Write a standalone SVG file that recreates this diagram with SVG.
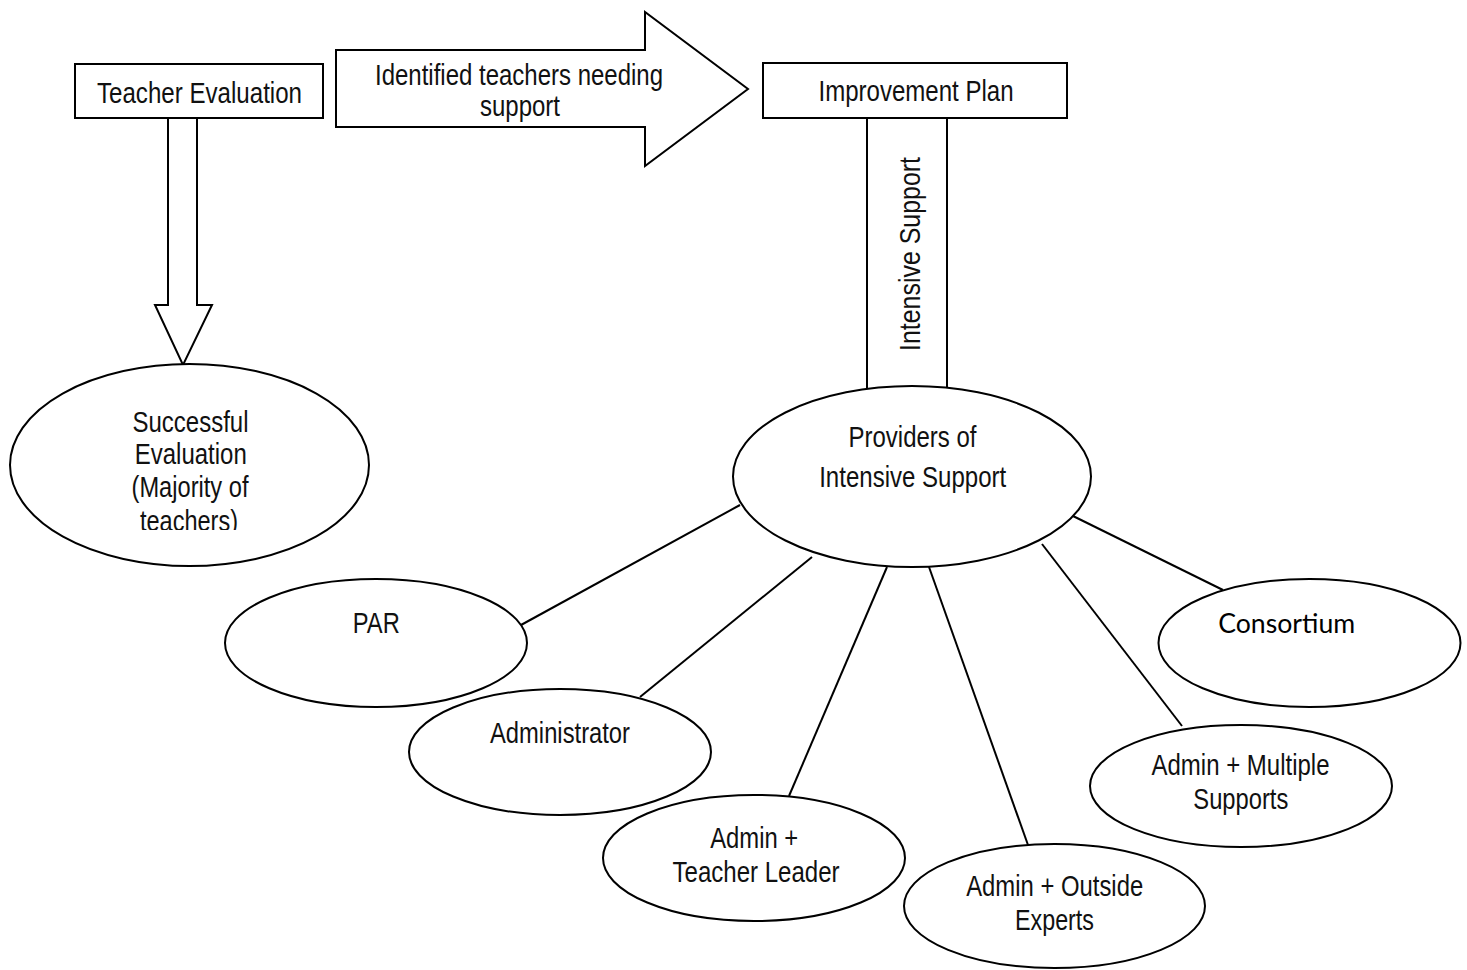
<svg xmlns="http://www.w3.org/2000/svg" width="1467" height="970" viewBox="0 0 1467 970">
<style>
  .shape { fill: #ffffff; stroke: #000000; stroke-width: 2; }
  .conn { stroke: #000000; stroke-width: 2; fill: none; }
  .lbl { font-family: 'Liberation Sans', Arial, sans-serif; font-size: 29px; fill: #111111; text-anchor: middle; }
  .cal { font-family: Lato, 'Open Sans', sans-serif; font-size: 27px; fill: #000000; text-anchor: middle; }
</style>
<defs>
  <clipPath id="clipSE"><rect x="0" y="360" width="380" height="170"/></clipPath>
</defs>
<rect width="1467" height="970" fill="#ffffff"/>

<g id="connectors">
  <line class="conn" x1="740" y1="505" x2="521" y2="625"/>
  <line class="conn" x1="812" y1="557" x2="640" y2="697"/>
  <line class="conn" x1="887" y1="567" x2="789" y2="796"/>
  <line class="conn" x1="929" y1="567" x2="1028" y2="845"/>
  <line class="conn" x1="1042" y1="544" x2="1182" y2="726"/>
  <line class="conn" x1="1073" y1="516" x2="1223" y2="590"/>
</g>

<g id="arrow-down">
  <polygon class="shape" points="168,118 197,118 197,305 212,305 183,365 155,305 168,305"/>
</g>

<g id="arrow-right">
  <polygon class="shape" points="336,50 645,50 645,12 748,89 645,166 645,127 336,127"/>
  <text class="lbl" x="519" y="85" textLength="288" lengthAdjust="spacingAndGlyphs">Identified teachers needing</text>
  <text class="lbl" x="520" y="116" textLength="80" lengthAdjust="spacingAndGlyphs">support</text>
</g>

<g id="intensive-support">
  <rect class="shape" x="867" y="117" width="80" height="275"/>
  <text class="lbl" x="920" y="254" transform="rotate(-90 920 254)" textLength="194" lengthAdjust="spacingAndGlyphs">Intensive Support</text>
</g>

<g id="teacher-evaluation">
  <rect class="shape" x="75" y="64" width="248" height="54"/>
  <text class="lbl" x="199.5" y="103" textLength="205" lengthAdjust="spacingAndGlyphs">Teacher Evaluation</text>
</g>

<g id="improvement-plan">
  <rect class="shape" x="763" y="63" width="304" height="55"/>
  <text class="lbl" x="916" y="101" textLength="195" lengthAdjust="spacingAndGlyphs">Improvement Plan</text>
</g>

<g id="successful-evaluation">
  <ellipse class="shape" cx="189.5" cy="465" rx="179.5" ry="101"/>
  <g clip-path="url(#clipSE)">
    <text class="lbl" x="190.5" y="432" textLength="116" lengthAdjust="spacingAndGlyphs">Successful</text>
    <text class="lbl" x="190.8" y="464" textLength="112" lengthAdjust="spacingAndGlyphs">Evaluation</text>
    <text class="lbl" x="190" y="497" textLength="117" lengthAdjust="spacingAndGlyphs">(Majority of</text>
    <text class="lbl" x="189" y="531" textLength="98" lengthAdjust="spacingAndGlyphs">teachers)</text>
  </g>
</g>

<g id="providers">
  <ellipse class="shape" cx="912" cy="476.5" rx="179" ry="90.5"/>
  <text class="lbl" x="912.5" y="447" textLength="128" lengthAdjust="spacingAndGlyphs">Providers of</text>
  <text class="lbl" x="912.7" y="487" textLength="187" lengthAdjust="spacingAndGlyphs">Intensive Support</text>
</g>

<g id="par">
  <ellipse class="shape" cx="376" cy="643" rx="151" ry="64"/>
  <text class="lbl" x="376.3" y="633" textLength="47" lengthAdjust="spacingAndGlyphs">PAR</text>
</g>

<g id="administrator">
  <ellipse class="shape" cx="560" cy="752" rx="151" ry="63"/>
  <text class="lbl" x="560" y="743" textLength="140" lengthAdjust="spacingAndGlyphs">Administrator</text>
</g>

<g id="admin-teacher-leader">
  <ellipse class="shape" cx="754" cy="858" rx="151" ry="63"/>
  <text class="lbl" x="754.2" y="848" textLength="88" lengthAdjust="spacingAndGlyphs">Admin +</text>
  <text class="lbl" x="756" y="882" textLength="167" lengthAdjust="spacingAndGlyphs">Teacher Leader</text>
</g>

<g id="admin-outside-experts">
  <ellipse class="shape" cx="1054.5" cy="906" rx="150.5" ry="62"/>
  <text class="lbl" x="1054.7" y="896" textLength="177" lengthAdjust="spacingAndGlyphs">Admin + Outside</text>
  <text class="lbl" x="1054.5" y="930" textLength="79" lengthAdjust="spacingAndGlyphs">Experts</text>
</g>

<g id="admin-multiple-supports">
  <ellipse class="shape" cx="1241" cy="786" rx="151" ry="61"/>
  <text class="lbl" x="1240.5" y="775" textLength="178" lengthAdjust="spacingAndGlyphs">Admin + Multiple</text>
  <text class="lbl" x="1240.8" y="809" textLength="95" lengthAdjust="spacingAndGlyphs">Supports</text>
</g>

<g id="consortium">
  <ellipse class="shape" cx="1309.5" cy="643" rx="151" ry="64"/>
  <text class="cal" x="1286.7" y="633" textLength="137" lengthAdjust="spacingAndGlyphs">Consortium</text>
</g>
</svg>
